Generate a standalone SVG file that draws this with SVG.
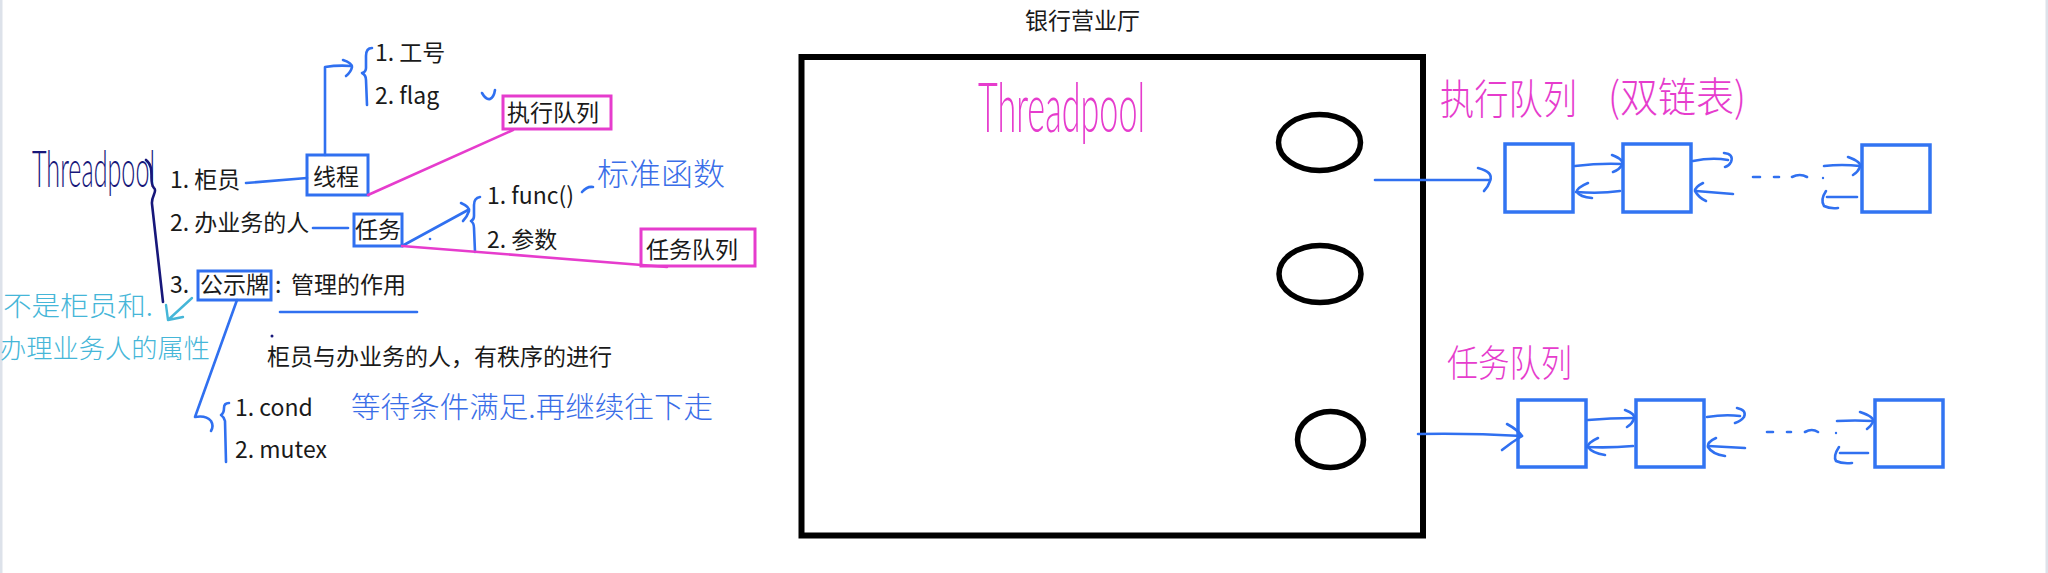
<svg xmlns="http://www.w3.org/2000/svg" width="2048" height="573" viewBox="0 0 2048 573">
<style>
.t{font-family:"Noto Sans CJK SC","Noto Sans",sans-serif;font-size:23px;fill:#1a1a1a}
.bl{fill:none;stroke:#3070f0;stroke-width:2.6;stroke-linecap:round;stroke-linejoin:round}
.pk{fill:none;stroke:#e63ccd;stroke-width:2.6;stroke-linecap:round}
.bbox{fill:none;stroke:#3070f0;stroke-width:3}
.pbox{fill:none;stroke:#e63ccd;stroke-width:3}
.qbox{fill:#fff;stroke:#3274f2;stroke-width:3.5}
.hw{font-family:"Noto Sans CJK SC",sans-serif;font-weight:300}
.lat{font-family:Lato,"DejaVu Sans",sans-serif;font-weight:300}
.ell{fill:none;stroke:#000;stroke-width:5.5}
</style>
<rect width="2048" height="573" fill="#fff"/>
<rect x="0" y="0" width="2.5" height="573" fill="#dde2ea"/>
<rect x="2045.5" y="0" width="2.5" height="573" fill="#dde2ea"/>

<!-- left mind map nodes -->
<g id="threadpool-left">
<text class="lat" transform="translate(32,187) scale(1,1.9)" x="0" y="0" font-size="27" fill="#17177a" textLength="123" lengthAdjust="spacingAndGlyphs">Threadpool</text>
</g>
<g id="item-guiyuan"><text class="t" x="170" y="188">1. 柜员</text></g>
<g id="node-xiancheng">
<rect class="bbox" x="307" y="155" width="61" height="40"/>
<text class="t" x="313" y="185">线程</text>
</g>
<g id="item-gonghao"><text class="t" x="375" y="61">1. 工号</text></g>
<g id="item-flag"><text class="t" x="375" y="104">2. flag</text></g>
<g id="node-zhixing">
<rect class="pbox" x="503" y="96" width="108" height="33"/>
<text class="t" x="507" y="121">执行队列</text>
</g>
<g id="item-ren"><text class="t" x="170" y="231">2. 办业务的人</text></g>
<g id="node-renwu">
<rect class="bbox" x="354" y="214" width="48" height="32"/>
<text class="t" x="355" y="238">任务</text>
</g>
<g id="item-func"><text class="t" x="487" y="204">1. func()</text></g>
<g id="item-canshu"><text class="t" x="487" y="248">2. 参数</text></g>
<g id="node-renwuduilie">
<rect class="pbox" x="641" y="229" width="114" height="37"/>
<text class="t" x="646" y="258">任务队列</text>
</g>
<g id="item-gongshipai">
<text class="t" x="170" y="293">3.</text>
<rect class="bbox" x="198" y="271" width="73" height="29"/>
<text class="t" x="200" y="293">公示牌</text>
<text class="t" x="275" y="293">:</text>
<text class="t" x="291" y="293">管理的作用</text>
</g>
<g id="note-order"><text class="t" x="267" y="365">柜员与办业务的人，有秩序的进行</text></g>
<g id="item-cond"><text class="t" x="235" y="416">1. cond</text></g>
<g id="item-mutex"><text class="t" x="235" y="458">2. mutex</text></g>

<!-- handwritten notes -->
<g id="note-biaozhun"><text class="hw" x="597" y="185" font-size="31" fill="#3a6ee8" textLength="128" lengthAdjust="spacingAndGlyphs">标准函数</text></g>
<g id="note-cyan">
<text class="hw" x="3" y="316" font-size="27" fill="#45b6d8" textLength="150" lengthAdjust="spacingAndGlyphs">不是柜员和.</text>
<text class="hw" x="0" y="358" font-size="26" fill="#45b6d8" textLength="210" lengthAdjust="spacingAndGlyphs">办理业务人的属性</text>
</g>
<g id="note-wait"><text class="hw" x="351" y="418" font-size="29" fill="#3a6ee8" textLength="362" lengthAdjust="spacingAndGlyphs">等待条件满足.再继续往下走</text></g>

<!-- left connectors -->
<g id="connectors-left">
<path d="M146,160 C156,168 148,182 154,188 C158,191 151,196 152,204 L163,302" fill="none" stroke="#17177a" stroke-width="2.6" stroke-linecap="round"/>
<path class="bl" d="M246,183 L307,178"/>
<path class="bl" d="M325,155 L325,67 Q338,65 351,66"/>
<path class="bl" d="M343,60 Q352,63 352,67 Q351,72 346,76"/>
<path class="bl" d="M372,48 Q366,48 366,56 L366,68 Q366,72 362,73 Q366,75 366,80 L367,105" stroke-width="2"/>
<path class="pk" d="M368,195 L513,130"/>
<path class="bl" d="M482,93 Q486,100 490,99 Q494,97 495,90" stroke-width="2"/>
<path class="bl" d="M313,228 L348,228"/>
<path class="bl" d="M402,246 L468,210"/>
<path class="bl" d="M461,203 Q470,207 469,211 Q467,217 463,221"/>
<circle cx="430" cy="239" r="1.3" fill="#3070f0"/>
<path class="bl" d="M480,197 Q474,198 474,205 L474,216 Q474,220 471,221 Q474,223 474,228 L475,252" stroke-width="2"/>
<path class="bl" d="M582,192 Q587,186 593,187" stroke-width="2"/>
<path class="pk" d="M402,246 L667,267"/>
<path class="bl" d="M280,312 L417,312" stroke-width="3.2"/>
<circle cx="272" cy="336" r="1.5" fill="#17177a"/>
<path class="bl" d="M237,300 L195,417 Q206,415 211,421 Q214,426 211,431"/>
<path class="bl" d="M229,403 Q224,403 224,408 Q224,413 221,415 Q224,417 225,421 L226,462" stroke-width="2"/>
<path d="M192,298 L168,320 M168,320 L166,305 M168,320 L183,317" fill="none" stroke="#45b6d8" stroke-width="2.4" stroke-linecap="round" stroke-linejoin="round"/>
</g>

<!-- bank hall -->
<g id="title"><text class="t" x="1025" y="29">银行营业厅</text></g>
<g id="hall">
<rect x="801.5" y="57" width="621.5" height="478.5" fill="none" stroke="#000" stroke-width="6"/>
<text class="lat" transform="translate(978,132) scale(1,1.55)" x="0" y="0" font-size="44" fill="#e63ccd" textLength="167" lengthAdjust="spacingAndGlyphs">Threadpool</text>
</g>
<g id="thread-1"><ellipse class="ell" cx="1319.5" cy="142.5" rx="41" ry="28"/></g>
<g id="thread-2"><ellipse class="ell" cx="1320" cy="274" rx="41" ry="28.5"/></g>
<g id="thread-3"><ellipse class="ell" cx="1330.5" cy="439.5" rx="33" ry="28"/></g>

<g id="label-zhixing">
<text class="hw" transform="translate(1440,114) scale(1,1.22)" x="0" y="0" font-size="34" fill="#e63ccd" textLength="137" lengthAdjust="spacingAndGlyphs">执行队列</text>
<text class="hw" transform="translate(1608,112) scale(1,1.22)" x="0" y="0" font-size="34" fill="#e63ccd" textLength="138" lengthAdjust="spacingAndGlyphs">(双链表)</text>
</g>
<g id="label-renwu">
<text class="hw" transform="translate(1447,377) scale(1,1.2)" x="0" y="0" font-size="31" fill="#e63ccd" textLength="125" lengthAdjust="spacingAndGlyphs">任务队列</text>
</g>

<g id="exec-node-1"><rect class="qbox" x="1505" y="144" width="68" height="68"/></g>
<g id="exec-node-2"><rect class="qbox" x="1623" y="144" width="68" height="68"/></g>
<g id="exec-node-3"><rect class="qbox" x="1862" y="145" width="68" height="67"/></g>
<g id="task-node-1"><rect class="qbox" x="1518" y="400" width="68" height="67"/></g>
<g id="task-node-2"><rect class="qbox" x="1636" y="400" width="68" height="67"/></g>
<g id="task-node-3"><rect class="qbox" x="1875" y="400" width="68" height="67"/></g>

<g id="connectors-queues">
<!-- exec row -->
<path class="bl" d="M1375,180 L1490,180"/>
<path class="bl" d="M1478,168 Q1494,172 1490,181 Q1488,187 1484,191"/>
<path class="bl" d="M1575,166 Q1600,163 1622,164"/>
<path class="bl" d="M1612,155 Q1625,160 1622,165 Q1619,170 1613,172"/>
<path class="bl" d="M1620,191 Q1600,194 1576,192"/>
<path class="bl" d="M1588,183 Q1576,188 1577,192 Q1580,197 1592,198"/>
<path class="bl" d="M1693,161 Q1712,157 1728,160"/>
<path class="bl" d="M1724,153 Q1734,154 1731,162 Q1729,166 1725,167"/>
<path class="bl" d="M1733,194 L1696,191"/>
<path class="bl" d="M1703,183 Q1695,187 1695,191 Q1699,198 1706,201"/>
<path class="bl" d="M1753,177 L1760,177 M1774,177 L1779,177 M1792,177 Q1800,173 1807,177" stroke-width="2"/>
<circle cx="1823" cy="178" r="1.2" fill="#3070f0"/>
<path class="bl" d="M1824,166 Q1842,164 1860,166"/>
<path class="bl" d="M1848,157 Q1862,162 1860,167 Q1858,172 1853,175"/>
<path class="bl" d="M1857,197 L1827,197"/>
<path class="bl" d="M1826,191 Q1820,200 1824,206 Q1830,209 1838,208"/>
<!-- task row -->
<path class="bl" d="M1418,434 Q1470,433 1522,436" stroke-width="3"/>
<path class="bl" d="M1507,424 Q1518,430 1522,436 Q1512,442 1502,450" stroke-width="3"/>
<path class="bl" d="M1588,420 Q1610,418 1634,418"/>
<path class="bl" d="M1625,410 Q1636,414 1634,419 Q1632,424 1627,427"/>
<path class="bl" d="M1633,446 Q1610,448 1587,447"/>
<path class="bl" d="M1598,438 Q1587,443 1588,447 Q1592,453 1605,455"/>
<path class="bl" d="M1707,417 Q1725,414 1740,416"/>
<path class="bl" d="M1737,408 Q1747,410 1744,417 Q1741,421 1735,423"/>
<path class="bl" d="M1745,448 L1708,446"/>
<path class="bl" d="M1716,438 Q1707,442 1708,447 Q1712,454 1725,456"/>
<path class="bl" d="M1767,432 L1773,432 M1787,432 L1791,432 M1805,432 Q1812,428 1818,432" stroke-width="2"/>
<circle cx="1836" cy="433" r="1.2" fill="#3070f0"/>
<path class="bl" d="M1837,421 Q1855,420 1873,421"/>
<path class="bl" d="M1860,412 Q1875,417 1873,422 Q1871,426 1867,429"/>
<path class="bl" d="M1868,453 L1840,453"/>
<path class="bl" d="M1839,447 Q1833,456 1836,461 Q1842,464 1852,463"/>
</g>
</svg>
